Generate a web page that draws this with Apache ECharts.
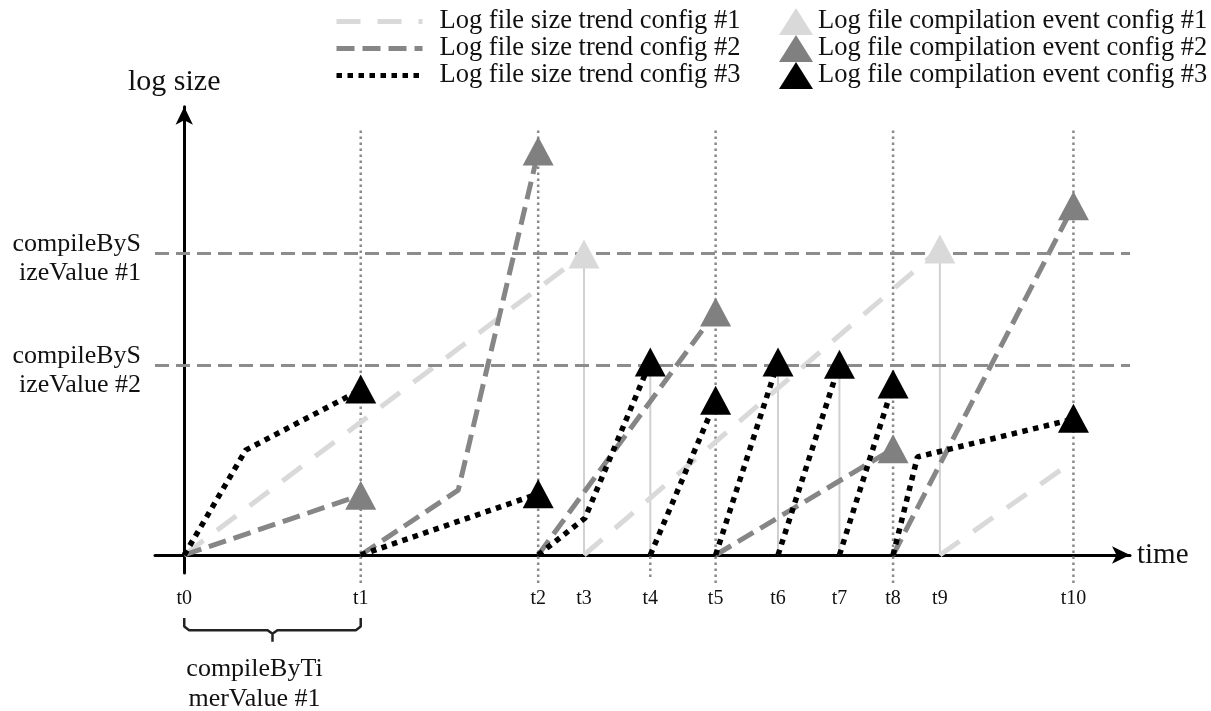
<!DOCTYPE html>
<html>
<head>
<meta charset="utf-8">
<script src="https://cdn.jsdelivr.net/npm/echarts@6/dist/echarts.min.js"></script>
<style>
  html, body { margin: 0; padding: 0; background: #fff; }
  #chart { width: 1211px; height: 711px; }
</style>
</head>
<body>
<div id="chart"></div>
<script>
// ---------- data ----------
const timeLabels = ['t0', 't1', 't2', 't3', 't4', 't5', 't6', 't7', 't8', 't9', 't10'];
const timeValues = [0, 18.1, 36.3, 41.0, 47.8, 54.5, 60.9, 67.2, 72.7, 77.5, 91.2];

const guideTimes = [18.1, 36.3, 54.5, 72.7, 91.2];   // full-height dotted guides
const shortGuideTimes = [47.8];                      // dotted guide below the axis only

const thresholdValues = [67.1, 42.2];
const thresholdLabels = ['compileByS\nizeValue #1', 'compileByS\nizeValue #2'];

const trendNames = ['Log file size trend config #1', 'Log file size trend config #2', 'Log file size trend config #3'];
const eventNames = ['Log file compilation event config #1', 'Log file compilation event config #2', 'Log file compilation event config #3'];

// trend segments (log size restarts at 0 after each compilation)
const trend1 = [
  [[0, 0], [41.0, 66.9]],
  [[41.0, 0], [77.5, 68.0]],
  [[77.5, 0], [91.2, 20.9]]
];
const trend2 = [
  [[0, 0], [18.1, 13.3]],
  [[18.1, 0], [28.1, 14.4], [36.3, 89.6]],
  [[36.3, 0], [54.5, 54.0]],
  [[54.5, 0], [72.7, 23.6]],
  [[72.7, 0], [91.2, 77.6]]
];
const trend3 = [
  [[0, 0], [6.3, 23.3], [18.1, 36.7]],
  [[18.1, 0], [36.3, 13.6]],
  [[36.3, 0], [41.1, 8.2], [47.8, 42.9]],
  [[47.8, 0], [54.5, 34.2]],
  [[54.5, 0], [60.9, 42.9]],
  [[60.9, 0], [67.2, 42.4]],
  [[67.2, 0], [72.7, 37.8]],
  [[72.7, 0], [75.2, 21.8], [91.2, 30.2]]
];

const events1 = [[41.0, 66.9], [77.5, 68.0]];
const events2 = [[18.1, 13.3], [36.3, 89.8], [54.5, 54.0], [72.7, 23.6], [91.2, 77.6]];
const events3 = [[18.1, 36.9], [36.3, 13.6], [47.8, 42.9], [54.5, 34.4], [60.9, 42.9], [67.2, 42.4], [72.7, 38.0], [91.2, 30.4]];

// thin connector stems under some events (time, top value)
const stems = [[41.0, 64.0], [47.8, 40.4], [60.9, 40.4], [67.2, 39.8], [77.5, 64.9]];

const guideTop = 95.1, guideBottom = -6.2, shortGuideBottom = -4.9;

// compileByTimerValue brace between t0 and t1
const braceFrom = 0, braceTo = 18.1;
const braceTop = -14, braceMid = -16.7, braceTip = -19.3;
const braceLabel = 'compileByTi\nmerValue #1';

// ---------- helpers ----------
function joinSegments(segs) {
  const out = [];
  segs.forEach((s, i) => {
    if (i) out.push([s[0][0], '-']);
    s.forEach(p => out.push(p));
  });
  return out;
}
function verticals(times, lo, hi) {
  return joinSegments(times.map(t => [[t, lo], [t, hi]]));
}

const FONT = "'Liberation Serif', 'Times New Roman', serif";
const TXT = '#111';
const C1 = '#d9d9d9', C2 = '#868686', C3 = '#000000', C2E = '#808080';

const braceMidX = (braceFrom + braceTo) / 2;
const braceData = [
  [braceFrom, braceTop], [braceFrom, braceMid + 0.8], [braceFrom + 0.5, braceMid],
  [braceMidX - 0.5, braceMid], [braceMidX, braceMid - 0.8], [braceMidX, braceTip],
  [braceMidX, braceMid - 0.8], [braceMidX + 0.5, braceMid],
  [braceTo - 0.5, braceMid], [braceTo, braceMid + 0.8], [braceTo, braceTop]
];

const chart = echarts.init(document.getElementById('chart'), null, { renderer: 'canvas' });

const option = {
  animation: false,
  backgroundColor: '#ffffff',
  grid: { left: 155, right: 81, top: 106.8, bottom: 138, containLabel: false, outerBoundsMode: 'none' },
  legend: [
    {
      data: trendNames, orient: 'vertical', left: 329, top: 3,
      itemWidth: 86, itemHeight: 10, itemGap: 0, selectedMode: false,
      itemStyle: { opacity: 0 },
      lineStyle: { width: 5 },
      textStyle: { fontFamily: FONT, fontSize: 26.5, color: TXT, lineHeight: 26.5, padding: [0, 0, 0, 12] }
    },
    {
      data: eventNames, orient: 'vertical', left: 774, top: 3,
      itemWidth: 34, itemHeight: 27, itemGap: 0, selectedMode: false, icon: 'triangle',
      textStyle: { fontFamily: FONT, fontSize: 26.5, color: TXT, lineHeight: 26.5 }
    }
  ],
  xAxis: {
    type: 'value', min: -3, max: 97,
    name: 'time', nameLocation: 'end', nameGap: 7,
    nameTextStyle: { fontFamily: FONT, fontSize: 29, color: TXT, verticalAlign: 'middle' },
    axisLine: { show: true, onZero: true, symbol: ['none', 'arrow'], symbolSize: [13, 18],
      lineStyle: { color: '#000', width: 3 } },
    axisTick: { show: false },
    splitLine: { show: false },
    axisLabel: {
      show: true, customValues: timeValues, margin: 16,
      fontFamily: FONT, fontSize: 20, color: TXT,
      formatter: v => timeLabels[timeValues.indexOf(v)]
    }
  },
  yAxis: {
    type: 'value', min: -4, max: 99.6,
    name: 'log size', nameLocation: 'end', nameGap: 10,
    nameTextStyle: { fontFamily: FONT, fontSize: 30, color: TXT, padding: [0, 20, 0, 0] },
    axisLine: { show: true, onZero: true, symbol: ['none', 'arrow'], symbolSize: [13, 18],
      lineStyle: { color: '#000', width: 3 } },
    axisTick: { show: false },
    splitLine: { show: false },
    axisLabel: { show: false }
  },
  series: [
    {
      name: 'guides', type: 'line', silent: true, clip: false, symbol: 'none', z: 1,
      data: verticals(guideTimes, guideBottom, guideTop).concat([[0, '-']]).concat(verticals(shortGuideTimes, shortGuideBottom, 0)),
      lineStyle: { color: '#8a8a8a', width: 2.5, type: [2.5, 3.5] },
      markLine: {
        silent: true, symbol: 'none',
        lineStyle: { color: '#8c8c8c', width: 3, type: [14, 7] },
        label: { show: true, position: 'start', distance: 14, offset: [0, 6], formatter: p => p.name,
          fontFamily: FONT, fontSize: 26, lineHeight: 29, color: TXT },
        emphasis: { disabled: true },
        data: thresholdValues.map((v, i) => ({ yAxis: v, name: thresholdLabels[i] }))
      }
    },
    {
      name: 'stems', type: 'line', silent: true, symbol: 'none', z: 2,
      data: joinSegments(stems.map(s => [[s[0], 0], [s[0], s[1]]])),
      lineStyle: { color: '#d0d0d0', width: 2 }
    },
    {
      name: trendNames[0], type: 'line', symbol: 'none', showSymbol: false, z: 3,
      data: joinSegments(trend1), color: C1,
      lineStyle: { color: C1, width: 5, type: [24, 17] }
    },
    {
      name: trendNames[1], type: 'line', symbol: 'none', showSymbol: false, z: 4,
      data: joinSegments(trend2), color: C2,
      lineStyle: { color: C2, width: 5, type: [18, 8] }
    },
    {
      name: trendNames[2], type: 'line', symbol: 'none', showSymbol: false, z: 5,
      data: joinSegments(trend3), color: C3,
      lineStyle: { color: C3, width: 5.5, type: [5.5, 5.5] }
    },
    {
      name: eventNames[0], type: 'scatter', symbol: 'triangle', symbolSize: [31, 29], z: 6,
      data: events1, itemStyle: { color: C1, opacity: 1 }
    },
    {
      name: eventNames[1], type: 'scatter', symbol: 'triangle', symbolSize: [31, 29], z: 6,
      data: events2, itemStyle: { color: C2E, opacity: 1 }
    },
    {
      name: eventNames[2], type: 'scatter', symbol: 'triangle', symbolSize: [31, 29], z: 7,
      data: events3, itemStyle: { color: C3, opacity: 1 }
    },
    {
      name: 'brace', type: 'line', silent: true, clip: false, symbol: 'none', z: 2,
      data: braceData,
      lineStyle: { color: '#222', width: 2.5 }
    },
    {
      name: 'braceLabel', type: 'scatter', silent: true, clip: false, symbolSize: 0, z: 2,
      data: [[braceMidX, braceTip]],
      itemStyle: { opacity: 1 },
      label: { show: true, position: 'bottom', distance: 12, offset: [-18, 0], opacity: 1,
        formatter: braceLabel, fontFamily: FONT, fontSize: 26, lineHeight: 30, color: TXT, align: 'center' }
    }
  ]
};
chart.setOption(option);
</script>
</body>
</html>
